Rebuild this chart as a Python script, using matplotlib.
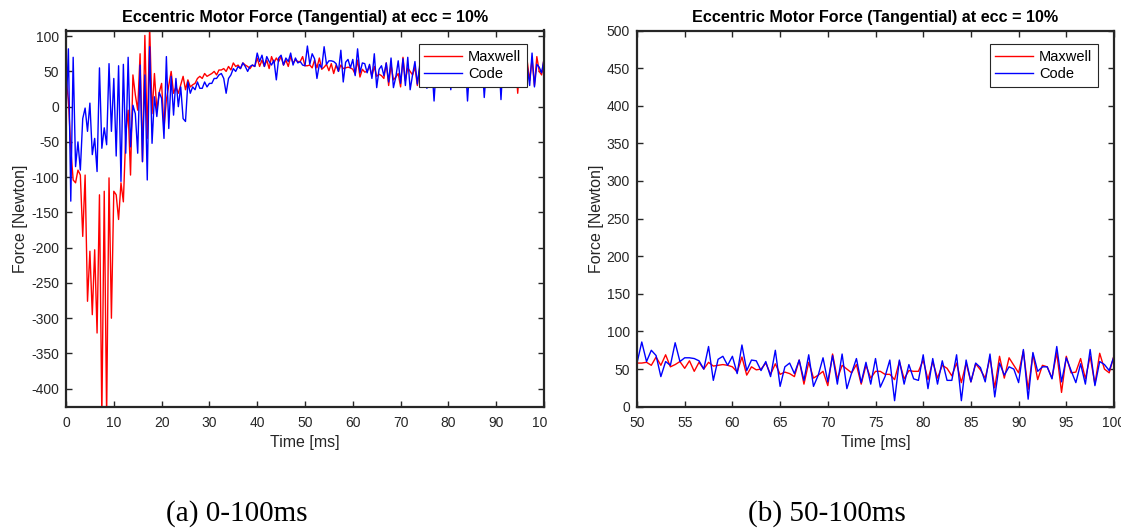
import numpy as np
import matplotlib
matplotlib.use("Agg")
import matplotlib.pyplot as plt
from matplotlib.patches import Rectangle

plt.rcParams['font.family'] = ['Liberation Sans', 'DejaVu Sans']
plt.rcParams['axes.unicode_minus'] = False

# ---------------- data ----------------
time_step_ms = 0.5
time_ms = np.arange(0, 100 + time_step_ms / 2, time_step_ms)

maxwell = [
    40, 10, -60, -104, -108, -90, -97, -184, -97, -276, -205, -295, -203, -321, -125, -440, -120, -440, -101, -300, -120, -125, -160,
    -108, -135, -40, -5, -97, 45, 17, -5, 75, -78, 101, -45, 115, -10, 47, -5, 20,
    33, -31, 10, 30, 50,
    19, 28, 19, 31, 43, 24, 38, 28, 31, 33, 40, 43, 40, 47, 43,
    45, 47, 50, 45, 52, 52, 54, 50, 57, 52, 62, 57, 59, 54, 62,
    59, 57, 54, 59, 57, 69, 57, 66, 57, 66, 54, 71, 62, 69, 64,
    71, 59, 66, 57, 71, 62, 66, 64, 64, 71,
    58, 58, 59, 55, 66, 55, 69, 53, 56, 60,
    51, 61, 47, 59, 50, 59, 54, 55, 56, 55,
    53, 46, 66, 42, 53, 49, 50, 58, 43, 57,
    43, 46, 44, 40, 62, 30, 59, 38, 42, 47,
    28, 70, 37, 55, 50, 45, 56, 30, 55, 38,
    47, 47, 43, 43, 36, 60, 37, 48, 47, 47,
    62, 36, 60, 38, 55, 51, 41, 58, 32, 58,
    33, 57, 49, 38, 65, 25, 67, 38, 65, 55,
    45, 74, 23, 70, 36, 55, 53, 38, 72, 19,
    67, 45, 46, 64, 37, 67, 30, 71, 50, 45,
    68,
]

code = [
    -12, 82, -134, 70, -85, -50, -90, -17, -2, -35, 5, -68, -45, -92, 55, -59, -30, -54, 61, -35, 40, -70, 58,
    -106, 60, -66, 70, -57, 2, -10, -66, 59, -78, 45, -104, 85, -52, 14, -14,
    20,
    12, -45, 71, -31, 43, -12, 40, 0, 28, -17,
    -21, 35, 19, 28, 24, 35, 26, 26, 35, 28,
    33, 33, 40, 40, 45, 47, 40, 19, 40, 45,
    54, 50, 57, 54, 62, 57, 50, 57, 59, 57,
    76, 64, 73, 57, 71, 64, 59, 66, 38, 69,
    73, 59, 69, 64, 76, 59, 69, 62, 64, 59,
    58, 86, 60, 75, 68, 40, 60, 55, 85, 60,
    65, 65, 64, 61, 50, 80, 35, 63, 67, 55,
    67, 44, 82, 48, 62, 61, 48, 60, 40, 75,
    27, 53, 58, 44, 62, 35, 69, 27, 42, 65,
    33, 68, 30, 70, 24, 45, 64, 32, 59, 30,
    64, 26, 40, 62, 8, 62, 30, 56, 37, 35,
    69, 24, 64, 30, 61, 35, 35, 69, 8, 62,
    33, 58, 52, 33, 70, 13, 58, 42, 53, 50,
    32, 76, 10, 72, 47, 53, 53, 37, 80, 33,
    65, 48, 32, 57, 30, 76, 28, 60, 56, 48,
    67,
]

series_labels = ["Maxwell", "Code"]
title_text = "Eccentric Motor Force (Tangential) at ecc = 10%"
xlabel_text = "Time [ms]"
ylabel_text = "Force [Newton]"
captions = ["(a) 0-100ms", "(b) 50-100ms"]

left_xticks = list(range(0, 101, 10))
left_yticks = list(range(-400, 101, 50))
right_xticks = list(range(50, 101, 5))
right_yticks = list(range(0, 501, 50))

# ---------------- figure ----------------
W, H = 1121, 531
fig = plt.figure(figsize=(W / 100, H / 100), dpi=100)


def px_axes(x0, x1, ytop, ybot):
    return fig.add_axes([x0 / W, 1 - ybot / H, (x1 - x0) / W, (ybot - ytop) / H])


frame_color = '#262626'


def style(ax):
    for s in ax.spines.values():
        s.set_linewidth(1.6)
        s.set_color(frame_color)
    ax.tick_params(direction='in', length=4, width=1.0, top=True, right=True,
                   labelsize=10, colors=frame_color)
    ax.tick_params(axis='x', pad=7)
    ax.tick_params(axis='y', pad=5)
    ax.set_title(title_text, fontsize=11.6, fontweight='bold', pad=6, color='black')
    ax.set_xlabel(xlabel_text, fontsize=11.5, color=frame_color, labelpad=3)
    ax.set_ylabel(ylabel_text, fontsize=11.5, color=frame_color, labelpad=2)


def add_legend(ax, anchor):
    leg = ax.legend(loc='upper right', bbox_to_anchor=anchor, borderaxespad=0,
                    fancybox=False, edgecolor=frame_color, fontsize=10.5, handlelength=2.6,
                    labelspacing=0.25, borderpad=0.38, handletextpad=0.4, framealpha=1.0)
    leg.get_frame().set_linewidth(0.8)
    return leg


ax1 = px_axes(66, 544, 30.5, 406.7)
ax1.plot(time_ms, maxwell, color='#ff0000', lw=1.0, label=series_labels[0])
ax1.plot(time_ms, code, color='#0000ff', lw=1.0, label=series_labels[1])
ax1.set_xlim(0, 100)
ax1.set_ylim(-425.5, 108)
ax1.set_xticks(left_xticks)
ax1.set_yticks(left_yticks)
style(ax1)
add_legend(ax1, (0.9644, 0.9636))

ax2 = px_axes(637, 1114, 30.5, 406.7)
ax2.plot(time_ms, maxwell, color='#ff0000', lw=1.0, label=series_labels[0])
ax2.plot(time_ms, code, color='#0000ff', lw=1.0, label=series_labels[1])
ax2.set_xlim(50, 100)
ax2.set_ylim(0, 500)
ax2.set_xticks(right_xticks)
ax2.set_yticks(right_yticks)
style(ax2)
add_legend(ax2, (0.9665, 0.9636))

# crop of the left sub-figure (clips the last tick label like the source image)
fig.patches.append(Rectangle((547 / W, 1 - 432 / H), 40 / W, 22 / H, transform=fig.transFigure,
                             facecolor='white', edgecolor='none', zorder=10))

fig.text(237 / W, 1 - 514 / H, captions[0], ha='center', va='center',
         fontsize=21, family=['Liberation Serif', 'DejaVu Serif'])
fig.text(827 / W, 1 - 514 / H, captions[1], ha='center', va='center',
         fontsize=21, family=['Liberation Serif', 'DejaVu Serif'])

fig.savefig('out.png', dpi=100)
